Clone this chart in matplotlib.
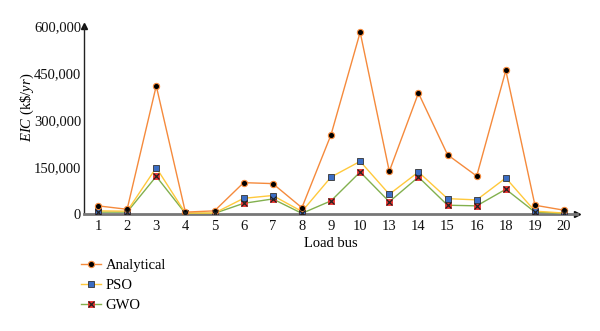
import matplotlib
matplotlib.use("Agg")
import matplotlib.pyplot as plt
from matplotlib.legend_handler import HandlerTuple

plt.rcParams["font.family"] = ["Liberation Serif", "DejaVu Serif"]
plt.rcParams["mathtext.fontset"] = "custom"
plt.rcParams["mathtext.rm"] = "Liberation Serif"
plt.rcParams["mathtext.it"] = "Liberation Serif:italic"

buses = ["1", "2", "3", "4", "5", "6", "7", "8", "9", "10",
         "13", "14", "15", "16", "18", "19", "20"]
analytical = [26000, 15000, 409000, 6000, 10000, 100000, 97000, 20000, 253000,
              580000, 136000, 386000, 189000, 121000, 458000, 28000, 12000]
pso = [10000, 9000, 148000, 3000, 3000, 50000, 59000, 8000, 118000,
       168000, 63000, 134000, 49000, 45000, 115000, 9000, 3000]
gwo = [6000, 6000, 120000, 2000, 2000, 34000, 48000, 2000, 42000,
       134000, 39000, 118000, 28000, 26000, 79000, 6000, 2000]

yticks = [0, 150000, 300000, 450000, 600000]

fig = plt.figure(figsize=(6.0, 3.31), dpi=100)
ax = fig.add_axes([0.14, 0.3535, 0.822, 0.568])

x = list(range(len(buses)))

ln_a, = ax.plot(x, analytical, color="#F58A3C", lw=1.0, marker="o", ms=4.5,
                mfc="black", mec="#F58A3C", mew=0.8, zorder=5)
ln_p, = ax.plot(x, pso, color="#FFC93C", lw=1.0, marker="s", ms=5,
                mfc="#3B6DC4", mec="#333333", mew=0.6, zorder=4)
ln_g, = ax.plot(x, gwo, color="#82B04E", lw=1.0, marker="s", ms=5,
                mfc="#E8302C", mec="#E8302C", mew=0.6, zorder=3)
ln_gx, = ax.plot(x, gwo, ls="none", marker="x", ms=4, mec="#222222",
                 mew=0.9, zorder=6)

ax.set_xlim(-0.48, 16.45)
ax.set_ylim(0, 600000)
ax.set_xticks(x)
ax.set_xticklabels(buses)
ax.set_yticks(yticks)
ax.set_yticklabels([f"{v:,}" for v in yticks])
ax.tick_params(length=0, labelsize=10.5, colors="#111111")
ax.tick_params(axis="x", pad=4)
ax.tick_params(axis="y", pad=2)

for s in ("top", "right"):
    ax.spines[s].set_visible(False)
ax.spines["left"].set_color("#222222")
ax.spines["left"].set_linewidth(1.0)
ax.spines["bottom"].set_color("#777777")
ax.spines["bottom"].set_linewidth(2.0)

# arrow heads at the ends of the axes
ax.plot(1, 0, ">", color="#111111", ms=5, transform=ax.transAxes, clip_on=False)
ax.plot(0, 1, "^", color="#111111", ms=5, transform=ax.transAxes, clip_on=False)

ax.set_ylabel("$EIC$ (k\\$/$yr$)", fontsize=10.5)
ax.yaxis.set_label_coords(-0.098, 0.57)
ax.set_xlabel("Load bus", fontsize=10.5, labelpad=3)

leg = fig.legend([ln_a, ln_p, (ln_g, ln_gx)], ["Analytical", "PSO", "GWO"],
                 handler_map={tuple: HandlerTuple(ndivide=1, pad=0)},
                 loc="upper left", bbox_to_anchor=(0.118, 0.248),
                 frameon=False, fontsize=10.5, handlelength=1.4,
                 handletextpad=0.3, labelspacing=0.45, borderpad=0.2)

fig.savefig("out.png", dpi=100)
